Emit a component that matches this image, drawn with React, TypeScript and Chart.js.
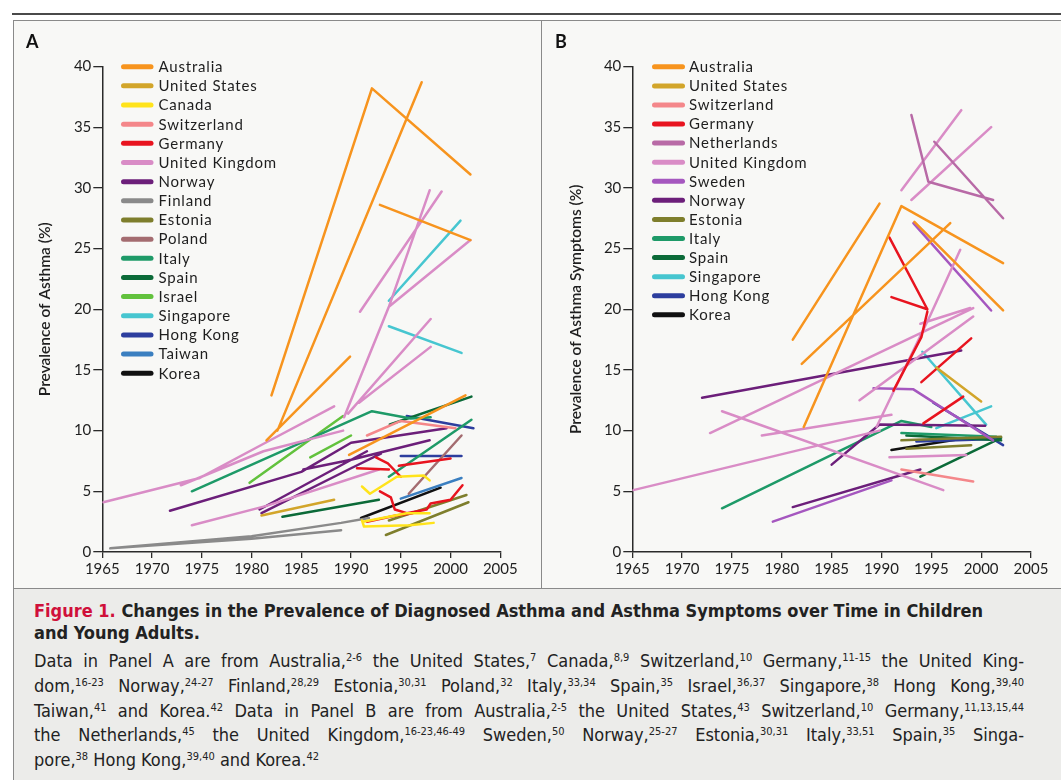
import React, { useEffect, useRef } from 'react';
import { Chart, registerables } from 'chart.js';

Chart.register(...registerables);

type Seg = number[][];

// ---------- Panel A: prevalence of diagnosed asthma ----------
const A_AUSTRALIA: Seg[] = [
  [[1982.0, 12.9], [1992.1, 38.2], [2002.0, 31.1]],
  [[1982.6, 10.0], [1997.1, 38.7]],
  [[1981.5, 9.2], [1989.9, 16.1]],
  [[1992.9, 28.6], [2002.0, 25.7]],
  [[1989.8, 8.0], [2001.5, 12.9]],
];
const A_US: Seg[] = [[[1981.0, 3.0], [1988.3, 4.3]]];
const A_CANADA: Seg[] = [
  [[1991.1, 5.4], [1991.9, 4.8], [1994.6, 6.2], [1997.3, 6.3], [1997.9, 5.9]],
  [[1991.1, 2.6], [1991.3, 2.1], [1995.9, 2.2], [1998.3, 2.4]],
  [[1991.2, 2.5], [1995.6, 3.2], [1997.9, 3.2]],
];
const A_SWITZERLAND: Seg[] = [[[1991.6, 9.6], [1995.0, 10.8], [2000.5, 10.2]]];
const A_GERMANY: Seg[] = [
  [[1990.6, 6.9], [1993.8, 6.8]],
  [[1992.5, 7.8], [1993.7, 7.3], [1995.0, 6.2]],
  [[1994.8, 7.1], [2000.0, 7.7]],
  [[1992.9, 5.0], [1994.0, 4.5], [1994.4, 3.5], [1995.6, 3.2], [1997.6, 3.5], [1998.0, 4.0], [2000.0, 4.3], [2001.2, 5.5]],
  [[1991.6, 2.5], [1994.5, 3.0], [1996.2, 3.2]],
];
const A_UK: Seg[] = [
  [[1965.1, 4.1], [1974.8, 6.1], [1981.4, 9.0], [1988.3, 12.0]],
  [[1972.9, 5.5], [1981.2, 8.3], [1989.2, 10.0]],
  [[1974.0, 2.2], [1981.5, 3.8], [1992.8, 6.8]],
  [[1989.3, 11.1], [1993.8, 20.2], [1997.9, 29.8]],
  [[1990.9, 19.8], [1999.1, 29.7]],
  [[1989.7, 11.4], [1998.0, 19.2]],
  [[1990.8, 12.3], [1998.0, 16.9]],
  [[1993.8, 20.2], [2002.0, 25.7]],
];
const A_NORWAY: Seg[] = [
  [[1971.8, 3.4], [1985.0, 6.6], [1990.0, 9.0], [1999.6, 10.2]],
  [[1985.2, 6.8], [1990.0, 7.6], [1997.9, 9.2]],
  [[1980.8, 3.5], [1991.6, 8.3]],
  [[1981.0, 3.2], [1990.0, 6.9], [1993.0, 8.1]],
];
const A_FINLAND: Seg[] = [
  [[1965.8, 0.3], [1980.0, 1.1], [1989.0, 1.8]],
  [[1965.8, 0.3], [1980.0, 1.3], [1989.0, 2.4], [1991.8, 2.8]],
];
const A_ESTONIA: Seg[] = [
  [[1993.5, 1.4], [2001.8, 4.1]],
  [[1993.8, 2.6], [2001.6, 4.7]],
];
const A_POLAND: Seg[] = [[[1995.8, 4.8], [2001.1, 9.6]]];
const A_ITALY: Seg[] = [
  [[1974.0, 5.0], [1992.1, 11.6], [1996.0, 11.0], [1998.0, 11.1]],
  [[1993.8, 6.2], [2002.1, 10.9]],
];
const A_SPAIN: Seg[] = [
  [[1983.1, 2.9], [1992.8, 4.3]],
  [[1993.9, 10.5], [2002.1, 12.8]],
];
const A_ISRAEL: Seg[] = [
  [[1979.8, 5.7], [1989.2, 11.2]],
  [[1985.9, 7.8], [1990.0, 9.6]],
];
const A_SINGAPORE: Seg[] = [
  [[1993.8, 20.7], [2001.0, 27.3]],
  [[1993.8, 18.6], [2001.1, 16.4]],
];
const A_HONGKONG: Seg[] = [
  [[1995.0, 7.9], [2001.1, 7.9]],
  [[1995.6, 11.2], [2002.3, 10.2]],
];
const A_TAIWAN: Seg[] = [[[1995.0, 4.4], [2001.1, 6.1]]];
const A_KOREA: Seg[] = [[[1991.0, 2.8], [1999.0, 5.3]]];

// ---------- Panel B: prevalence of asthma symptoms ----------
const B_AUSTRALIA: Seg[] = [
  [[1981.1, 17.5], [1989.8, 28.7]],
  [[1982.2, 10.3], [1992.0, 28.5], [2002.2, 23.8]],
  [[1982.0, 15.5], [1996.9, 27.1]],
  [[1993.3, 27.2], [2002.2, 19.9]],
];
const B_US: Seg[] = [[[1995.5, 15.2], [2000.0, 12.4]]];
const B_SWITZERLAND: Seg[] = [[[1992.0, 6.8], [1999.2, 5.8]]];
const B_GERMANY: Seg[] = [
  [[1990.8, 25.9], [1994.6, 20.0]],
  [[1991.0, 21.0], [1994.6, 20.0]],
  [[1991.2, 13.3], [1994.0, 17.7], [1994.6, 19.8]],
  [[1994.0, 14.0], [1999.0, 17.6]],
  [[1994.2, 10.6], [1998.2, 12.8]],
];
const B_NETHERLANDS: Seg[] = [
  [[1993.0, 36.0], [1994.7, 30.5], [2001.2, 29.0]],
  [[1995.3, 33.8], [2002.2, 27.5]],
];
const B_UK: Seg[] = [
  [[1992.0, 29.8], [1998.0, 36.4]],
  [[1993.0, 29.0], [2001.0, 35.0]],
  [[1965.1, 5.1], [1989.8, 10.0]],
  [[1972.8, 9.8], [1999.2, 20.1]],
  [[1974.0, 11.6], [1996.2, 5.1]],
  [[1978.0, 9.6], [1991.0, 11.3]],
  [[1987.8, 12.5], [1999.2, 19.4]],
  [[1989.5, 10.3], [1994.9, 19.5], [1997.9, 24.9]],
  [[1993.9, 18.8], [1998.9, 20.1]],
  [[1990.8, 7.8], [1998.5, 8.0]],
];
const B_SWEDEN: Seg[] = [
  [[1979.1, 2.5], [1991.0, 5.9]],
  [[1989.2, 13.5], [1993.2, 13.4], [2001.2, 9.2]],
  [[1993.2, 27.1], [2001.0, 19.9]],
];
const B_NORWAY: Seg[] = [
  [[1972.0, 12.7], [1998.0, 16.6]],
  [[1981.1, 3.7], [1993.9, 6.8]],
  [[1985.0, 7.2], [1989.8, 10.5], [2000.4, 10.4]],
];
const B_ESTONIA: Seg[] = [
  [[1992.0, 9.2], [2002.0, 9.5]],
  [[1992.5, 8.5], [1999.0, 8.8]],
];
const B_ITALY: Seg[] = [
  [[1974.0, 3.6], [1992.0, 10.8], [1995.0, 10.3]],
  [[1992.0, 9.8], [2001.5, 9.5]],
];
const B_SPAIN: Seg[] = [
  [[1993.9, 6.2], [2002.0, 9.4]],
  [[1992.5, 9.6], [2002.0, 9.2]],
];
const B_SINGAPORE: Seg[] = [
  [[1994.1, 16.5], [2000.5, 10.5]],
  [[1995.5, 10.2], [2001.0, 12.0]],
];
const B_HONGKONG: Seg[] = [
  [[1995.2, 12.3], [2002.2, 8.8]],
  [[1993.5, 9.1], [2001.5, 9.3]],
];
const B_KOREA: Seg[] = [[[1991.0, 8.4], [1998.5, 9.4]]];

// ---------- Axes ----------
const YEAR_MIN = 1965;
const YEAR_MAX = 2005;
const YEAR_STEP = 5;
const PREV_MIN = 0;
const PREV_MAX = 40;
const PREV_STEP = 5;

// ---------- Colours ----------
const C = {
  australia: '#F7941E',
  us: '#D2A52A',
  canada: '#FFE31B',
  switzerland: '#F4878A',
  germany: '#E8141F',
  netherlands: '#B86AA6',
  uk: '#D98CC6',
  sweden: '#A557BF',
  norway: '#6C1F7A',
  finland: '#8A8A8A',
  estonia: '#7E7E2C',
  poland: '#A46C70',
  italy: '#1E9A68',
  spain: '#0B6A38',
  israel: '#62C23D',
  singapore: '#47C6D0',
  hongkong: '#2D3E9E',
  taiwan: '#3B7FC0',
  korea: '#111111',
};

type Series = { name: string; color: string; segs: Seg[] };

const SERIES_A: Series[] = [
  { name: 'Australia', color: C.australia, segs: A_AUSTRALIA },
  { name: 'United States', color: C.us, segs: A_US },
  { name: 'Canada', color: C.canada, segs: A_CANADA },
  { name: 'Switzerland', color: C.switzerland, segs: A_SWITZERLAND },
  { name: 'Germany', color: C.germany, segs: A_GERMANY },
  { name: 'United Kingdom', color: C.uk, segs: A_UK },
  { name: 'Norway', color: C.norway, segs: A_NORWAY },
  { name: 'Finland', color: C.finland, segs: A_FINLAND },
  { name: 'Estonia', color: C.estonia, segs: A_ESTONIA },
  { name: 'Poland', color: C.poland, segs: A_POLAND },
  { name: 'Italy', color: C.italy, segs: A_ITALY },
  { name: 'Spain', color: C.spain, segs: A_SPAIN },
  { name: 'Israel', color: C.israel, segs: A_ISRAEL },
  { name: 'Singapore', color: C.singapore, segs: A_SINGAPORE },
  { name: 'Hong Kong', color: C.hongkong, segs: A_HONGKONG },
  { name: 'Taiwan', color: C.taiwan, segs: A_TAIWAN },
  { name: 'Korea', color: C.korea, segs: A_KOREA },
];

const SERIES_B: Series[] = [
  { name: 'Australia', color: C.australia, segs: B_AUSTRALIA },
  { name: 'United States', color: C.us, segs: B_US },
  { name: 'Switzerland', color: C.switzerland, segs: B_SWITZERLAND },
  { name: 'Germany', color: C.germany, segs: B_GERMANY },
  { name: 'Netherlands', color: C.netherlands, segs: B_NETHERLANDS },
  { name: 'United Kingdom', color: C.uk, segs: B_UK },
  { name: 'Sweden', color: C.sweden, segs: B_SWEDEN },
  { name: 'Norway', color: C.norway, segs: B_NORWAY },
  { name: 'Estonia', color: C.estonia, segs: B_ESTONIA },
  { name: 'Italy', color: C.italy, segs: B_ITALY },
  { name: 'Spain', color: C.spain, segs: B_SPAIN },
  { name: 'Singapore', color: C.singapore, segs: B_SINGAPORE },
  { name: 'Hong Kong', color: C.hongkong, segs: B_HONGKONG },
  { name: 'Korea', color: C.korea, segs: B_KOREA },
];

const FONT = 'Lato, "Open Sans", sans-serif';
const CAPTION_FONT = '"Liberation Sans Narrow", "DejaVu Sans Condensed", "Liberation Sans", sans-serif';

function toData(segs: Seg[]) {
  const out: { x: number; y: number | null }[] = [];
  segs.forEach((s, i) => {
    if (i > 0) out.push({ x: s[0][0], y: null });
    s.forEach((p) => out.push({ x: p[0], y: p[1] }));
  });
  return out;
}

type LegendGeom = { x1: number; x2: number; tx: number; y0: number; dy: number };

function makeChart(
  canvas: HTMLCanvasElement,
  series: Series[],
  yTitle: string,
  yAxisWidth: number,
  titlePad: number,
  rightPad: number,
  legend: LegendGeom,
) {
  const legendPlugin = {
    id: 'inlineLegend',
    afterDraw(chart: any) {
      const ctx = chart.ctx as CanvasRenderingContext2D;
      ctx.save();
      series.forEach((s, i) => {
        const y = legend.y0 + i * legend.dy;
        ctx.strokeStyle = s.color;
        ctx.lineWidth = 5;
        ctx.lineCap = 'round';
        ctx.beginPath();
        ctx.moveTo(legend.x1, y);
        ctx.lineTo(legend.x2, y);
        ctx.stroke();
        ctx.fillStyle = '#1e1e1e';
        ctx.font = `15px ${FONT}`;
        (ctx as any).letterSpacing = '0.8px';
        ctx.textBaseline = 'middle';
        ctx.textAlign = 'left';
        ctx.fillText(s.name, legend.tx, y + 0.5);
      });
      ctx.restore();
    },
  };

  return new Chart(canvas, {
    type: 'line',
    data: {
      datasets: series.map((s) => ({
        label: s.name,
        data: toData(s.segs),
        borderColor: s.color,
        backgroundColor: s.color,
        borderWidth: 2.5,
        pointRadius: 0,
        pointHoverRadius: 0,
        tension: 0,
        spanGaps: false,
        borderJoinStyle: 'round',
        borderCapStyle: 'round',
        fill: false,
      })),
    },
    options: {
      animation: false,
      responsive: false,
      maintainAspectRatio: false,
      events: [],
      layout: { padding: { left: 0, right: rightPad, top: 45.5, bottom: 0 } },
      plugins: { legend: { display: false }, tooltip: { enabled: false }, title: { display: false } },
      scales: {
        x: {
          type: 'linear',
          min: YEAR_MIN,
          max: YEAR_MAX,
          ticks: {
            stepSize: YEAR_STEP,
            autoSkip: false,
            maxRotation: 0,
            padding: 2,
            color: '#1e1e1e',
            font: { family: FONT, size: 15 },
            callback: (v: any) => String(v),
          },
          grid: { drawOnChartArea: false, drawTicks: true, tickLength: 6, color: '#2a2a2a', lineWidth: 1.3 },
          border: { display: true, color: '#2a2a2a', width: 1.5 },
          afterFit: (scale: any) => {
            scale.height = 35;
          },
        },
        y: {
          min: PREV_MIN,
          max: PREV_MAX,
          ticks: {
            stepSize: PREV_STEP,
            autoSkip: false,
            padding: 2,
            color: '#1e1e1e',
            font: { family: FONT, size: 15 },
            callback: (v: any) => String(v),
          },
          grid: { drawOnChartArea: false, drawTicks: true, tickLength: 9, color: '#2a2a2a', lineWidth: 1.3 },
          border: { display: true, color: '#2a2a2a', width: 1.5 },
          title: {
            display: true,
            text: yTitle,
            color: '#1e1e1e',
            font: { family: FONT, size: 15.5, weight: '600' },
            padding: { top: titlePad, bottom: 0 },
          },
          afterFit: (scale: any) => {
            scale.width = yAxisWidth;
          },
        },
      },
    } as any,
    plugins: [legendPlugin],
  });
}

const Sup = ({ t }: { t: string }) => (
  <span style={{ fontSize: 11, position: 'relative', top: -6, lineHeight: 0 }}>{t}</span>
);

const lineStyle = (top: number, justify: boolean, width = 990): React.CSSProperties => ({
  position: 'absolute',
  left: 34,
  top,
  width,
  whiteSpace: 'nowrap',
  textAlign: justify ? 'justify' : 'left',
  textAlignLast: justify ? 'justify' : 'left',
  fontFamily: CAPTION_FONT,
  fontSize: 18,
  lineHeight: '22px',
  color: '#222',
});

export default function App() {
  const refA = useRef<HTMLCanvasElement>(null);
  const refB = useRef<HTMLCanvasElement>(null);

  useEffect(() => {
    document.body.style.margin = '0';
    const a = makeChart(refA.current!, SERIES_A, 'Prevalence of Asthma (%)', 88.3, 22, 39.7, {
      x1: 109.5,
      x2: 137,
      tx: 144.5,
      y0: 45.7,
      dy: 19.16,
    });
    const b = makeChart(refB.current!, SERIES_B, 'Prevalence of Asthma Symptoms (%)', 90.3, 24.5, 30, {
      x1: 112.5,
      x2: 140.5,
      tx: 147,
      y0: 45.8,
      dy: 19.08,
    });
    return () => {
      a.destroy();
      b.destroy();
    };
  }, []);

  return (
    <div style={{ position: 'relative', width: 1061, height: 780, background: '#ffffff', overflow: 'hidden' }}>
      <div style={{ position: 'absolute', left: 12, top: 13, width: 1049, height: 2, background: '#4a4a4a' }} />
      <div
        style={{
          position: 'absolute',
          left: 13,
          top: 20,
          width: 1048,
          height: 569,
          background: '#f8f8f6',
          borderTop: '1px solid #8a8a8a',
          borderLeft: '1px solid #8a8a8a',
          borderBottom: '1px solid #8a8a8a',
          boxSizing: 'border-box',
        }}
      />
      <div style={{ position: 'absolute', left: 541, top: 20, width: 1, height: 569, background: '#8a8a8a' }} />
      <div
        style={{
          position: 'absolute',
          left: 13,
          top: 589,
          width: 1048,
          height: 191,
          background: '#ececea',
          borderLeft: '1px solid #8a8a8a',
          boxSizing: 'border-box',
        }}
      />
      <canvas
        ref={refA}
        width={526}
        height={566}
        style={{ position: 'absolute', left: 14, top: 21, width: 526, height: 566 }}
      />
      <canvas
        ref={refB}
        width={519}
        height={566}
        style={{ position: 'absolute', left: 542, top: 21, width: 519, height: 566 }}
      />
      <div style={{ position: 'absolute', left: 26, top: 30, fontFamily: FONT, fontWeight: 700, fontSize: 18, color: '#111' }}>A</div>
      <div style={{ position: 'absolute', left: 555, top: 30, fontFamily: FONT, fontWeight: 700, fontSize: 18, color: '#111' }}>B</div>

      <div style={{ ...lineStyle(600, true, 912), fontWeight: 700 }}>
        <span style={{ color: '#D0103A' }}>Figure 1.</span> Changes in the Prevalence of Diagnosed Asthma and Asthma Symptoms over Time in Children
      </div>
      <div style={{ ...lineStyle(622, false), fontWeight: 700 }}>and Young Adults.</div>

      <div style={lineStyle(650, true)}>
        Data in Panel A are from Australia,<Sup t="2-6" /> the United States,<Sup t="7" /> Canada,<Sup t="8,9" /> Switzerland,<Sup t="10" /> Germany,<Sup t="11-15" /> the United King-
      </div>
      <div style={lineStyle(675, true)}>
        dom,<Sup t="16-23" /> Norway,<Sup t="24-27" /> Finland,<Sup t="28,29" /> Estonia,<Sup t="30,31" /> Poland,<Sup t="32" /> Italy,<Sup t="33,34" /> Spain,<Sup t="35" /> Israel,<Sup t="36,37" /> Singapore,<Sup t="38" /> Hong Kong,<Sup t="39,40" />
      </div>
      <div style={lineStyle(700, true)}>
        Taiwan,<Sup t="41" /> and Korea.<Sup t="42" /> Data in Panel B are from Australia,<Sup t="2-5" /> the United States,<Sup t="43" /> Switzerland,<Sup t="10" /> Germany,<Sup t="11,13,15,44" />
      </div>
      <div style={lineStyle(724, true)}>
        the Netherlands,<Sup t="45" /> the United Kingdom,<Sup t="16-23,46-49" /> Sweden,<Sup t="50" /> Norway,<Sup t="25-27" /> Estonia,<Sup t="30,31" /> Italy,<Sup t="33,51" /> Spain,<Sup t="35" /> Singa-
      </div>
      <div style={lineStyle(749, false)}>
        pore,<Sup t="38" /> Hong Kong,<Sup t="39,40" /> and Korea.<Sup t="42" />
      </div>
    </div>
  );
}
